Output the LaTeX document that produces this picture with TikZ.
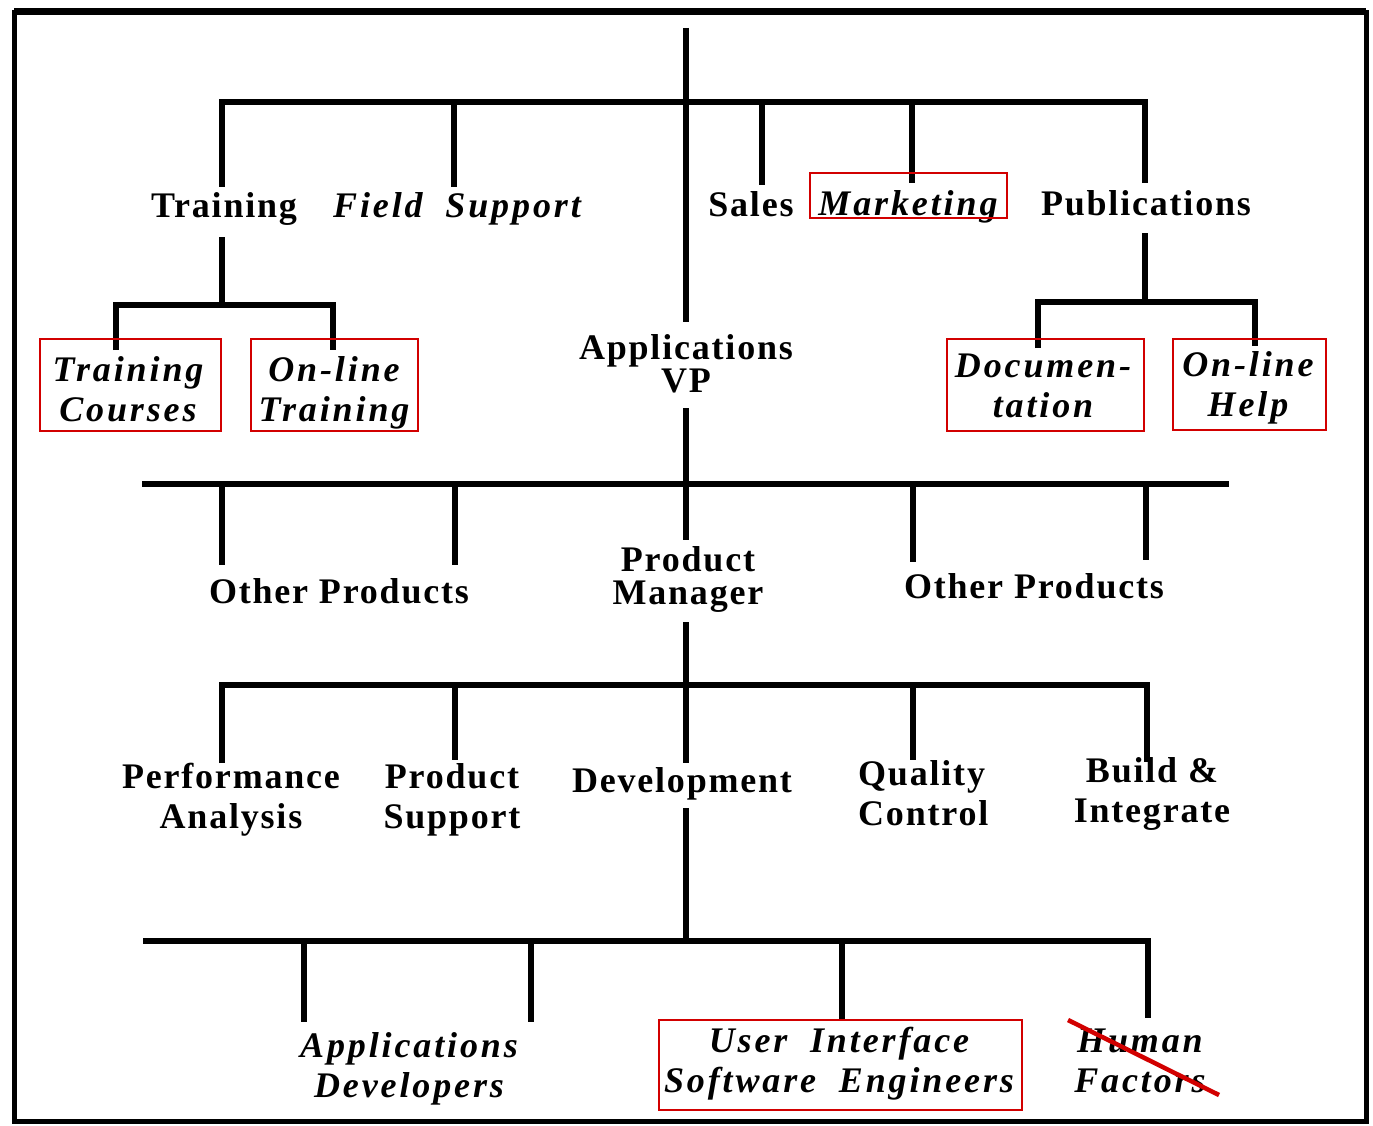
\documentclass[tikz,border=0pt]{standalone}
\usepackage{fontspec}
\setmainfont{Liberation Serif}
\definecolor{boxred}{RGB}{210,0,0}
\begin{document}
\begin{tikzpicture}[x=1pt,y=-1pt,
  bar/.style={line width=6.5pt,line join=miter},
  drop/.style={line width=5.5pt},
  frame/.style={line width=5pt},
  lbl/.style={font={\fontsize{36}{39.5}\selectfont\bfseries\addfontfeature{LetterSpace=5}},align=center,inner sep=0pt,anchor=base},
  tightlbl/.style={lbl,font={\fontsize{36}{33}\selectfont\bfseries\addfontfeature{LetterSpace=5}}},
  ilbl/.style={font={\fontsize{36}{39.5}\selectfont\bfseries\itshape\addfontfeature{LetterSpace=8}},align=center,inner sep=0pt,anchor=base},
  redbox/.style={draw=boxred,line width=2pt},
  strike/.style={draw=boxred,line width=4.5pt}]
\useasboundingbox (0,0) rectangle (1373,1126);
\fill[white] (0,0) rectangle (1373,1126);
\draw[frame] (14,13) rectangle (1366,1121);
\draw[line width=3pt] (14,10) -- (1366,10);

% labels (multi-line nodes are placed by the baseline of their last line)
\node[lbl]  (training)  at (224,218) {Training};
\node[ilbl] (field)     at (457,218) {Field\hspace{0.3em} Support};
\node[lbl]  (sales)     at (751,216) {Sales};
\node[ilbl] (marketing) at (908,215) {Marketing};
\node[lbl]  (pubs)      at (1146,215) {Publications};
\node[ilbl] (trcourses) at (128,421) {Training\\Courses};
\node[ilbl] (oltrain)   at (334,421) {On-line\\Training};
\node[ilbl] (docu)      at (1043,417) {Documen-\\tation};
\node[ilbl] (olhelp)    at (1248,416) {On-line\\Help};
\node[tightlbl] (vp)    at (686,392) {Applications\\VP};
\node[lbl]  (otherL)    at (339,603) {Other Products};
\node[lbl]  (otherR)    at (1034,598) {Other Products};
\node[tightlbl] (pm)    at (688,604) {Product\\Manager};
\node[lbl]  (perf)      at (231,828) {Performance\\Analysis};
\node[lbl]  (prodsup)   at (452,828) {Product\\Support};
\node[lbl]  (dev)       at (682,792) {Development};
\node[lbl,align=left,anchor=base west] (qc) at (858,825) {Quality\\Control};
\node[lbl]  (build)     at (1152,822) {Build \&\\Integrate};
\node[ilbl] (appdev)    at (409,1097) {Applications\\Developers};
\node[ilbl] (uise)      at (839,1092) {User\hspace{0.3em} Interface\\Software\hspace{0.3em} Engineers};
\node[ilbl] (human)     at (1140,1092) {Human\\Factors};

% coordinates of connector ends
\coordinate (sTop) at (686,28);
\coordinate (sVPa) at (686,322);
\coordinate (sVPb) at (686,408);
\coordinate (sPMa) at (686,540);
\coordinate (sPMb) at (686,622);
\coordinate (sDVa) at (686,763);
\coordinate (sDVb) at (686,808);
\coordinate (sBot) at (686,942);

% spine
\draw[drop] (sTop) -- (sVPa);
\draw[drop] (sVPb) -- (sPMa);
\draw[drop] (sPMb) -- (sDVa);
\draw[drop] (sDVb) -- (sBot);

% top bar
\draw[bar] (222,187) -- (222,102) -- (1145,102) -- (1145,183);
\draw[drop] (454,102) -- (454,187);
\draw[drop] (762,102) -- (762,185);
\draw[drop] (912,102) -- (912,183);

% training subtree
\draw[drop] (222,237) -- (222,305);
\draw[bar] (116,350) -- (116,305) -- (333,305) -- (333,350);
% publications subtree
\draw[drop] (1145,233) -- (1145,302);
\draw[bar] (1038,348) -- (1038,302) -- (1255,302) -- (1255,346);

% second bar
\draw[bar] (142,484) -- (1229,484);
\draw[drop] (222,484) -- (222,565);
\draw[drop] (455,484) -- (455,565);
\draw[drop] (913,484) -- (913,562);
\draw[drop] (1146,484) -- (1146,560);

% third bar
\draw[bar] (222,763) -- (222,685) -- (1147,685) -- (1147,762);
\draw[drop] (455,685) -- (455,760);
\draw[drop] (913,685) -- (913,760);

% fourth bar
\draw[bar] (143,941) -- (1148,941) -- (1148,1018);
\draw[drop] (304,941) -- (304,1022);
\draw[drop] (531,941) -- (531,1022);
\draw[drop] (842,941) -- (842,1020);

% red boxes
\draw[redbox] (810,173) rectangle (1007,218);
\draw[redbox] (40,339) rectangle (221,431);
\draw[redbox] (251,339) rectangle (418,431);
\draw[redbox] (947,339) rectangle (1144,431);
\draw[redbox] (1173,339) rectangle (1326,430);
\draw[redbox] (659,1020) rectangle (1022,1110);
\draw[strike] (1068,1020) -- (1219,1095);
\end{tikzpicture}
\end{document}
